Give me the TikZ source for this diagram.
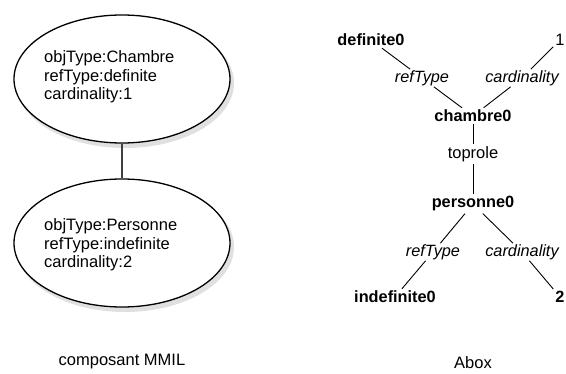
\documentclass[tikz,border=0pt]{standalone}
\usepackage{fontspec}
\setmainfont{Liberation Sans}
\usetikzlibrary{shapes.geometric}
\begin{document}
\begin{tikzpicture}[x=1pt,y=-1pt,
  txt/.style={font=\fontsize{16.5}{18.3}\selectfont, inner sep=2pt},
  bnode/.style={font=\fontsize{16.3}{18.3}\selectfont\bfseries, inner sep=2pt},
  inode/.style={font=\fontsize{16.3}{18.3}\selectfont\itshape, inner sep=1pt},
  ell/.style={ellipse, draw, line width=1.3pt, fill=white, minimum width=216pt, minimum height=128pt, inner sep=0pt},
  shad/.style={ellipse, fill=black, opacity=0.12, minimum width=218pt, minimum height=130pt, inner sep=0pt},
  link/.style={line width=0.9pt}]
\useasboundingbox (0,0) rectangle (566,374);
% left: MMIL component
\node[shad] (s1) at (125,83) {};
\node[shad] (s2) at (125,247) {};
\node[ell] (e1) at (122,79) {};
\node[ell] (e2) at (122,243) {};
\draw[line width=1.2pt, black!75] (e1.south) -- (e2.north);
\node[txt, anchor=west, align=left] (t1) at (42,77) {objType:Chambre\\refType:definite\\cardinality:1};
\node[txt, anchor=west, align=left] (t2) at (42,245) {objType:Personne\\refType:indefinite\\cardinality:2};
\node[txt] (c1) at (122,362) {composant MMIL};
% right: Abox
\node[bnode] (def) at (371,40) {definite0};
\node[txt] (one) at (560,40) {1};
\node[inode] (rt1) at (422,78) {refType};
\node[inode] (ca1) at (522,78) {cardinality};
\node[bnode] (ch) at (473,116) {chambre0};
\node[txt] (tp) at (473,154) {toprole};
\node[bnode] (pe) at (473,204) {personne0};
\node[inode] (rt2) at (433,252) {refType};
\node[inode] (ca2) at (522,252) {cardinality};
\node[bnode] (indef) at (395,297) {indefinite0};
\node[bnode] (two) at (560,297) {2};
\node[txt] (ab) at (473,363) {Abox};
\draw[link] (def) -- (rt1);
\draw[link] (rt1) -- (ch);
\draw[link] (ch) -- (ca1);
\draw[link] (ca1) -- (one);
\draw[link] (ch) -- (tp);
\draw[link] (tp) -- (pe);
\draw[link] (pe) -- (rt2);
\draw[link] (pe) -- (ca2);
\draw[link] (rt2) -- (indef);
\draw[link] (ca2) -- (two);
\end{tikzpicture}
\end{document}
